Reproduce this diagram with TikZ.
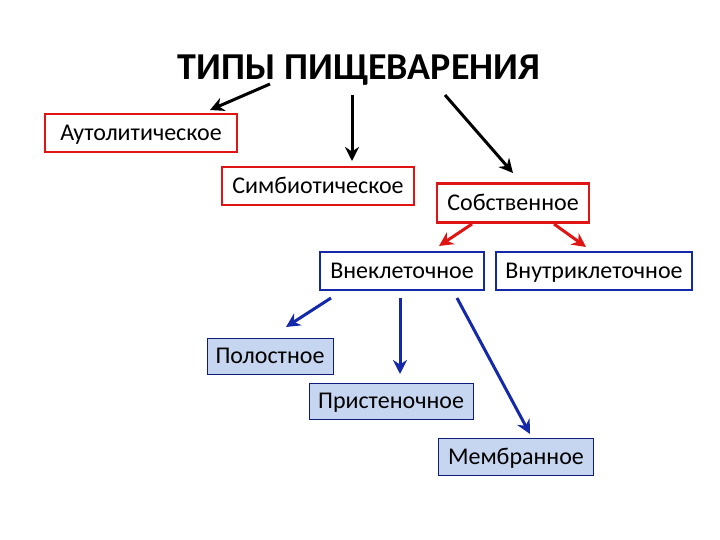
\documentclass[tikz,border=0pt]{standalone}
\usepackage{fontspec}
\setmainfont{Carlito}
\usetikzlibrary{arrows.meta}
\definecolor{lb}{RGB}{198,214,240}
\definecolor{rr}{RGB}{225,20,20}
\definecolor{bb}{RGB}{20,40,170}
\begin{document}
\begin{tikzpicture}[x=1pt,y=-1pt,
  base/.style={inner sep=0pt,text height=18pt,text depth=3pt,font=\fontsize{24}{28}\selectfont},
  rbox/.style={base,draw=rr,line width=2.6pt,fill=white},
  bbox/.style={base,draw=bb,line width=2.6pt,fill=white},
  lbox/.style={base,draw=bb!70!black,line width=0.8pt,fill=lb},
  arr/.style={line width=3pt,-{Stealth[length=14pt,width=14pt]}}]
\useasboundingbox (0,0) rectangle (720,540);
\node (t) at (359,70) {\fontsize{38}{44}\selectfont\bfseries ТИПЫ ПИЩЕВАРЕНИЯ};
\node[rbox,minimum width=192pt,minimum height=38pt] (a) at (141,133) {Аутолитическое};
\node[rbox,minimum width=192pt,minimum height=38pt] (s) at (318,186) {Симбиотическое};
\node[rbox,minimum width=152pt,minimum height=39pt] (c) at (513,203) {Собственное};
\node[bbox,minimum width=164pt,minimum height=38pt] (v) at (402,271) {Внеклеточное};
\node[bbox,minimum width=196pt,minimum height=38pt] (w) at (594,271) {Внутриклеточное};
\node[lbox,minimum width=126pt,minimum height=36pt] (p) at (270,356) {Полостное};
\node[lbox,minimum width=164pt,minimum height=36pt] (q) at (391,401) {Пристеночное};
\node[lbox,minimum width=155pt,minimum height=37pt] (m) at (516,457) {Мембранное};
\coordinate (k1) at (270,84); \coordinate (k1e) at (210,110);
\coordinate (k2) at (352,95); \coordinate (k2e) at (352,161);
\coordinate (k3) at (445,95); \coordinate (k3e) at (513,173);
\draw[arr] (k1) -- (k1e);
\draw[arr] (k2) -- (k2e);
\draw[arr] (k3) -- (k3e);
\coordinate (r1) at (472,224); \coordinate (r1e) at (439,246);
\coordinate (r2) at (554,224); \coordinate (r2e) at (586,247);
\draw[arr,rr] (r1) -- (r1e);
\draw[arr,rr] (r2) -- (r2e);
\coordinate (b1) at (331,298); \coordinate (b1e) at (286,327);
\coordinate (b2) at (400,298); \coordinate (b2e) at (400,374);
\coordinate (b3) at (457,298); \coordinate (b3e) at (530,434);
\draw[arr,bb] (b1) -- (b1e);
\draw[arr,bb] (b2) -- (b2e);
\draw[arr,bb] (b3) -- (b3e);
\end{tikzpicture}
\end{document}
